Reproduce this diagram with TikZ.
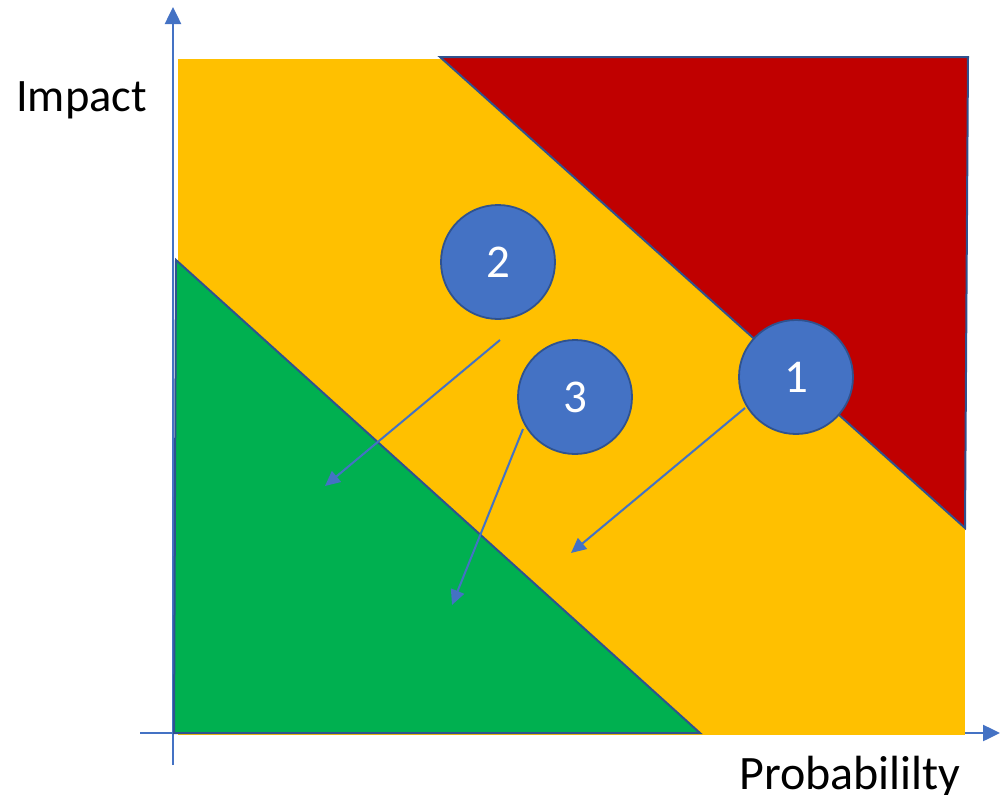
\documentclass[tikz,border=0pt]{standalone}
\usepackage{fontspec}
\setmainfont{Carlito}
\usetikzlibrary{arrows.meta}
\definecolor{myyellow}{HTML}{FFC000}
\definecolor{myred}{HTML}{C00000}
\definecolor{mygreen}{HTML}{00B050}
\definecolor{myblue}{HTML}{4472C4}
\definecolor{myedge}{HTML}{2F528F}
\tikzset{
  axisline/.style={draw=myblue, line width=2.5pt, -{Triangle[length=17pt,width=16pt]}},
  zone/.style={draw=myedge, line width=2pt, line join=miter},
  riskdot/.style={circle, minimum size=114pt, inner sep=0pt, fill=myblue, draw=myedge, line width=1.8pt, text=white, font=\fontsize{47}{50}\selectfont},
  moveto/.style={draw=myblue, line width=2pt, -{Triangle[length=15pt,width=14pt]}},
  axislabel/.style={inner sep=0pt, anchor=base west, text=black}
}
\begin{document}
\begin{tikzpicture}[x=1pt, y=-1pt]
\useasboundingbox (0,0) rectangle (1002,795);
% axes
\coordinate (vb) at (173,765);
\coordinate (vt) at (173,7);
\coordinate (hl) at (140,733);
\coordinate (hr) at (1000,733);
\draw[axisline] (vb) -- (vt);
\draw[axisline] (hl) -- (hr);
% zones
\fill[myyellow] (178,59) rectangle (965,734.6);
\filldraw[fill=myred, zone] (440,57) -- (968,57) -- (965,528) -- cycle;
\filldraw[fill=mygreen, zone] (176,260) -- (174,733) -- (700,733) -- cycle;
% labels
\node[axislabel, font=\fontsize{46.5}{50}\selectfont] (impact) at (16,111) {Impact};
\node[axislabel, font=\fontsize{48}{54}\selectfont] (prob) at (739,789) {Probabililty};
% risks
\node[riskdot] (r2) at (498,262) {2};
\node[riskdot] (r3) at (575,397) {3};
\node[riskdot] (r1) at (796,377) {1};
% movements
\coordinate (a2s) at (500,340);
\coordinate (a2e) at (325,486);
\coordinate (a3s) at (523,429);
\coordinate (a3e) at (452,605);
\coordinate (a1s) at (745,408);
\coordinate (a1e) at (571,553);
\draw[moveto] (a2s) -- (a2e);
\draw[moveto] (a3s) -- (a3e);
\draw[moveto] (a1s) -- (a1e);
\end{tikzpicture}
\end{document}
